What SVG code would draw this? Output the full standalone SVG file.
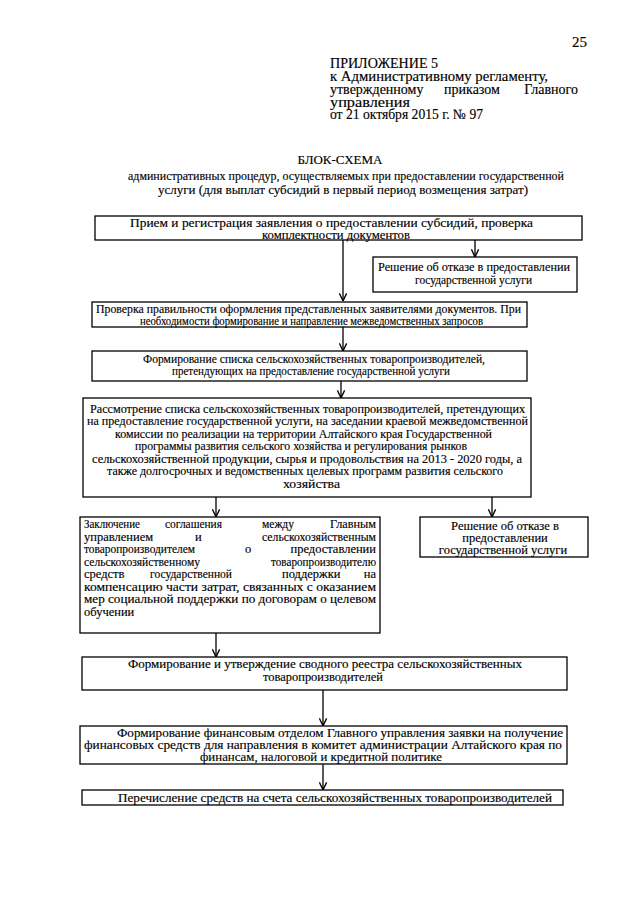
<svg xmlns="http://www.w3.org/2000/svg" width="640" height="905" viewBox="0 0 640 905">
<defs>
<marker id="ah" viewBox="0 0 10 10" refX="9.5" refY="5" markerWidth="9" markerHeight="9" markerUnits="userSpaceOnUse" orient="auto">
<path d="M1,1 L9.5,5 L1,9" fill="none" stroke="#000" stroke-width="1.5"/>
</marker>
<style>
text{font-family:"Liberation Serif","Times New Roman",serif;fill:#000;stroke:#000;stroke-width:0.15}
.h{font-size:14px}
.h1{font-size:15px}
.t{font-size:13px}
.b{font-size:12.5px}
.box{fill:#fff;stroke:#000;stroke-width:1.3}
.c{text-anchor:middle}
.e{text-anchor:end}
.ar{stroke:#000;stroke-width:1.3;fill:none;marker-end:url(#ah)}
</style>
</defs>
<rect width="640" height="905" fill="#fff"/>
<g id="header">
<text class="h1" x="587" y="47" text-anchor="end">25</text>
<text class="h1" x="330" y="68" textLength="108" lengthAdjust="spacingAndGlyphs">ПРИЛОЖЕНИЕ 5</text>
<text class="h" x="330" y="81" textLength="218" lengthAdjust="spacingAndGlyphs">к Административному регламенту,</text>
<text class="h" x="330" y="94">утвержденному</text>
<text class="h c" x="472" y="94">приказом</text>
<text class="h e" x="578" y="94">Главного</text>
<text class="h" x="330" y="106.5" textLength="80" lengthAdjust="spacingAndGlyphs">управления</text>
<text class="h" x="330" y="119" textLength="153" lengthAdjust="spacingAndGlyphs">от 21 октября 2015 г. № 97</text>
</g>
<g id="title">
<text class="t c" x="340" y="164">БЛОК-СХЕМА</text>
<text class="t" x="128" y="180" textLength="436" lengthAdjust="spacingAndGlyphs">административных процедур, осуществляемых при предоставлении государственной</text>
<text class="t" x="158" y="194" textLength="370" lengthAdjust="spacingAndGlyphs">услуги (для выплат субсидий в первый период возмещения затрат)</text>
</g>
<g id="connectors">
<line class="ar" x1="343" y1="240" x2="343" y2="301"/>
<line class="ar" x1="475" y1="240" x2="475" y2="257"/>
<line class="ar" x1="343" y1="327" x2="343" y2="351"/>
<line class="ar" x1="341" y1="381" x2="341" y2="398"/>
<line class="ar" x1="216" y1="497" x2="216" y2="517"/>
<line class="ar" x1="492" y1="497" x2="492" y2="517"/>
<line class="ar" x1="216" y1="633" x2="216" y2="657"/>
<line class="ar" x1="323" y1="690" x2="323" y2="726"/>
<line class="ar" x1="323" y1="764" x2="323" y2="790"/>
</g>
<g id="n1">
<rect class="box" x="95" y="216" width="487" height="24"/>
<text class="b" x="130" y="227" textLength="403" lengthAdjust="spacingAndGlyphs">Прием и регистрация заявления о предоставлении субсидий, проверка</text>
<text class="b" x="262" y="239" textLength="148" lengthAdjust="spacingAndGlyphs">комплектности документов</text>
</g>
<g id="n2">
<rect class="box" x="373" y="257" width="204" height="35"/>
<text class="b" x="378" y="271" textLength="192" lengthAdjust="spacingAndGlyphs">Решение об отказе в предоставлении</text>
<text class="b" x="415" y="284" textLength="117" lengthAdjust="spacingAndGlyphs">государственной услуги</text>
</g>
<g id="n3">
<rect class="box" x="92" y="302" width="435" height="25"/>
<text class="b" x="96" y="313" textLength="425" lengthAdjust="spacingAndGlyphs">Проверка правильности оформления представленных заявителями документов. При</text>
<text class="b" x="140" y="325" textLength="343" lengthAdjust="spacingAndGlyphs">необходимости формирование и направление межведомственных запросов</text>
</g>
<g id="n4">
<rect class="box" x="92" y="351" width="435" height="30"/>
<text class="b" x="143" y="363" textLength="342" lengthAdjust="spacingAndGlyphs">Формирование списка сельскохозяйственных товаропроизводителей,</text>
<text class="b" x="172" y="375" textLength="278" lengthAdjust="spacingAndGlyphs">претендующих на предоставление государственной услуги</text>
</g>
<g id="n5">
<rect class="box" x="83" y="398" width="448" height="99"/>
<text class="b" x="90" y="413" textLength="435" lengthAdjust="spacingAndGlyphs">Рассмотрение списка сельскохозяйственных товаропроизводителей, претендующих</text>
<text class="b" x="87" y="425" textLength="441" lengthAdjust="spacingAndGlyphs">на предоставление государственной услуги, на заседании краевой межведомственной</text>
<text class="b" x="115" y="438" textLength="377" lengthAdjust="spacingAndGlyphs">комиссии по реализации на территории Алтайского края Государственной</text>
<text class="b" x="135" y="450" textLength="332" lengthAdjust="spacingAndGlyphs">программы развития сельского хозяйства и регулирования рынков</text>
<text class="b" x="92" y="463" textLength="430" lengthAdjust="spacingAndGlyphs">сельскохозяйственной продукции, сырья и продовольствия на 2013 - 2020 годы, а</text>
<text class="b" x="107" y="475" textLength="396" lengthAdjust="spacingAndGlyphs">также долгосрочных и ведомственных целевых программ развития сельского</text>
<text class="b" x="283" y="488" textLength="57" lengthAdjust="spacingAndGlyphs">хозяйства</text>
</g>
<g id="n6">
<rect class="box" x="80" y="517" width="300" height="116"/>
<text class="b" x="84" y="528" textLength="56" lengthAdjust="spacingAndGlyphs">Заключение</text>
<text class="b" x="165" y="528" textLength="57" lengthAdjust="spacingAndGlyphs">соглашения</text>
<text class="b" x="262" y="528" textLength="32" lengthAdjust="spacingAndGlyphs">между</text>
<text class="b e" x="376" y="528" textLength="46" lengthAdjust="spacingAndGlyphs">Главным</text>
<text class="b" x="84" y="541">управлением</text>
<text class="b" x="195" y="541">и</text>
<text class="b e" x="376" y="541" textLength="114" lengthAdjust="spacingAndGlyphs">сельскохозяйственным</text>
<text class="b" x="84" y="553" textLength="111" lengthAdjust="spacingAndGlyphs">товаропроизводителем</text>
<text class="b" x="245" y="553">о</text>
<text class="b e" x="376" y="553">предоставлении</text>
<text class="b" x="84" y="566" textLength="116" lengthAdjust="spacingAndGlyphs">сельскохозяйственному</text>
<text class="b e" x="376" y="566" textLength="105" lengthAdjust="spacingAndGlyphs">товаропроизводителю</text>
<text class="b" x="84" y="578">средств</text>
<text class="b" x="150" y="578" textLength="82" lengthAdjust="spacingAndGlyphs">государственной</text>
<text class="b" x="282" y="578">поддержки</text>
<text class="b e" x="376" y="578">на</text>
<text class="b" x="84" y="591" textLength="292" lengthAdjust="spacingAndGlyphs">компенсацию части затрат, связанных с оказанием</text>
<text class="b" x="84" y="603" textLength="292" lengthAdjust="spacingAndGlyphs">мер социальной поддержки по договорам о целевом</text>
<text class="b" x="84" y="616">обучении</text>
</g>
<g id="n7">
<rect class="box" x="420" y="517" width="168" height="40"/>
<text class="b c" x="505" y="530">Решение об отказе в</text>
<text class="b c" x="505" y="542">предоставлении</text>
<text class="b c" x="503" y="554">государственной услуги</text>
</g>
<g id="n8">
<rect class="box" x="82" y="657" width="485" height="33"/>
<text class="b" x="128" y="668" textLength="394" lengthAdjust="spacingAndGlyphs">Формирование и утверждение сводного реестра сельскохозяйственных</text>
<text class="b" x="263" y="681" textLength="120" lengthAdjust="spacingAndGlyphs">товаропроизводителей</text>
</g>
<g id="n9">
<rect class="box" x="80" y="726" width="487" height="38"/>
<text class="b" x="117" y="737" textLength="446" lengthAdjust="spacingAndGlyphs">Формирование финансовым отделом Главного управления заявки на получение</text>
<text class="b" x="84" y="749" textLength="478" lengthAdjust="spacingAndGlyphs">финансовых средств для направления в комитет администрации Алтайского края по</text>
<text class="b" x="200" y="761" textLength="242" lengthAdjust="spacingAndGlyphs">финансам, налоговой и кредитной политике</text>
</g>
<g id="n10">
<rect class="box" x="82" y="790" width="481" height="15"/>
<text class="b" x="118" y="802" textLength="434" lengthAdjust="spacingAndGlyphs">Перечисление средств на счета сельскохозяйственных товаропроизводителей</text>
</g>
</svg>
